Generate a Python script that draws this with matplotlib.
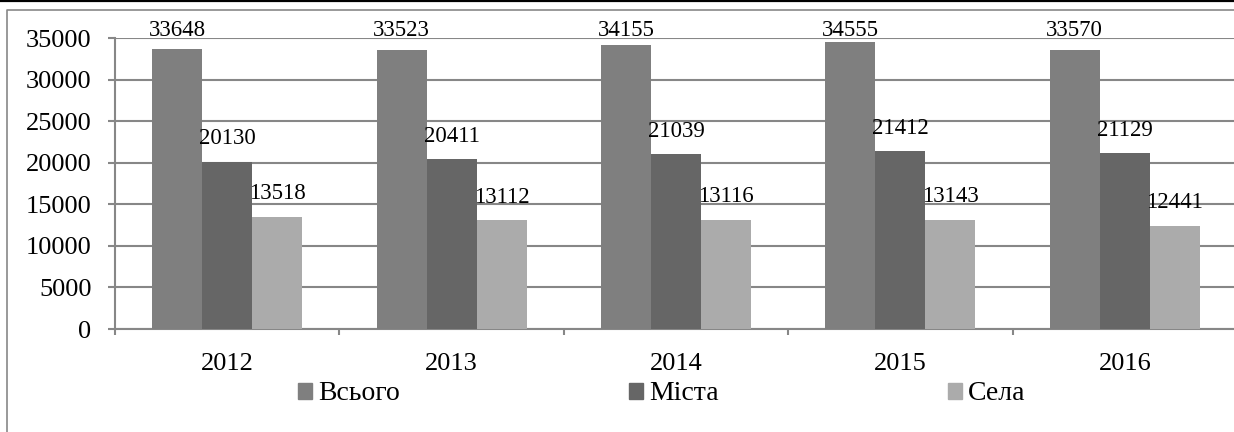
import matplotlib
matplotlib.use("Agg")
import matplotlib.pyplot as plt
from matplotlib.lines import Line2D
from matplotlib.patches import Rectangle
import numpy as np

years = ["2012", "2013", "2014", "2015", "2016"]
series_names = ["Всього", "Міста", "Села"]
vsoho = [33648, 33523, 34155, 34555, 33570]
mista = [20130, 20411, 21039, 21412, 21129]
sela = [13518, 13112, 13116, 13143, 12441]
series_values = [vsoho, mista, sela]
colors = ["#7f7f7f", "#666666", "#ababab"]
yticks = [0, 5000, 10000, 15000, 20000, 25000, 30000, 35000]

plt.rcParams["font.family"] = ["Liberation Serif", "DejaVu Serif"]
grey = "#878787"

fig = plt.figure(figsize=(12.34, 4.32), dpi=100)
ax = fig.add_axes([115 / 1234, 103 / 432, 1122 / 1234, 291 / 432])

x = np.arange(len(years))
w = 0.223
for i, (name, vals, c) in enumerate(zip(series_names, series_values, colors)):
    pos = x + (i - 1) * w
    ax.bar(pos, vals, width=w, color=c, label=name, zorder=3)
    for px, v in zip(pos, vals):
        # labels above the bars, kept just under the top of the chart
        ty = min(v + 2100, 35300)
        ax.text(px, ty, str(v), ha="center", va="baseline", fontsize=16.5,
                color="black", zorder=4, clip_on=False)

ax.set_xlim(-0.5, len(years) - 0.5)
ax.set_ylim(0, 35000)
ax.set_yticks(yticks)
ax.set_yticklabels([str(t) for t in yticks])
ax.set_xticks(x)
ax.set_xticklabels(years)
ax.set_xticks(np.arange(-0.5, len(years), 1), minor=True)

ax.grid(axis="y", color=grey, linewidth=1.5, zorder=0)
ax.set_axisbelow(True)
for s in ["top", "right"]:
    ax.spines[s].set_visible(False)
for s in ["left", "bottom"]:
    ax.spines[s].set_color(grey)
    ax.spines[s].set_linewidth(1.5)

ax.tick_params(axis="y", length=5, width=1.5, color=grey, pad=12,
               labelsize=19, labelcolor="black")
ax.tick_params(axis="x", which="major", length=0, pad=17,
               labelsize=19, labelcolor="black")
ax.tick_params(axis="x", which="minor", length=4.5, width=1.5, color=grey)

handles = [Rectangle((0, 0), 1, 1, color=c) for c in colors]
fig.legend(handles, series_names, loc="center left",
           bbox_to_anchor=(298 / 1234, 38 / 432), ncol=3, frameon=False,
           fontsize=20, handlelength=0.5, handleheight=0.5,
           handletextpad=0.22, columnspacing=8.25, borderpad=0,
           borderaxespad=0)

# outer frame of the picture
fig.add_artist(Line2D([0, 1], [1 - 1 / 432, 1 - 1 / 432],
                      transform=fig.transFigure, color="black", linewidth=1.6))
fig.add_artist(Line2D([7 / 1234, 7 / 1234, 1], [0, 1 - 10 / 432, 1 - 10 / 432],
                      transform=fig.transFigure, color=grey, linewidth=1.2))

fig.savefig("out.png", dpi=100)
